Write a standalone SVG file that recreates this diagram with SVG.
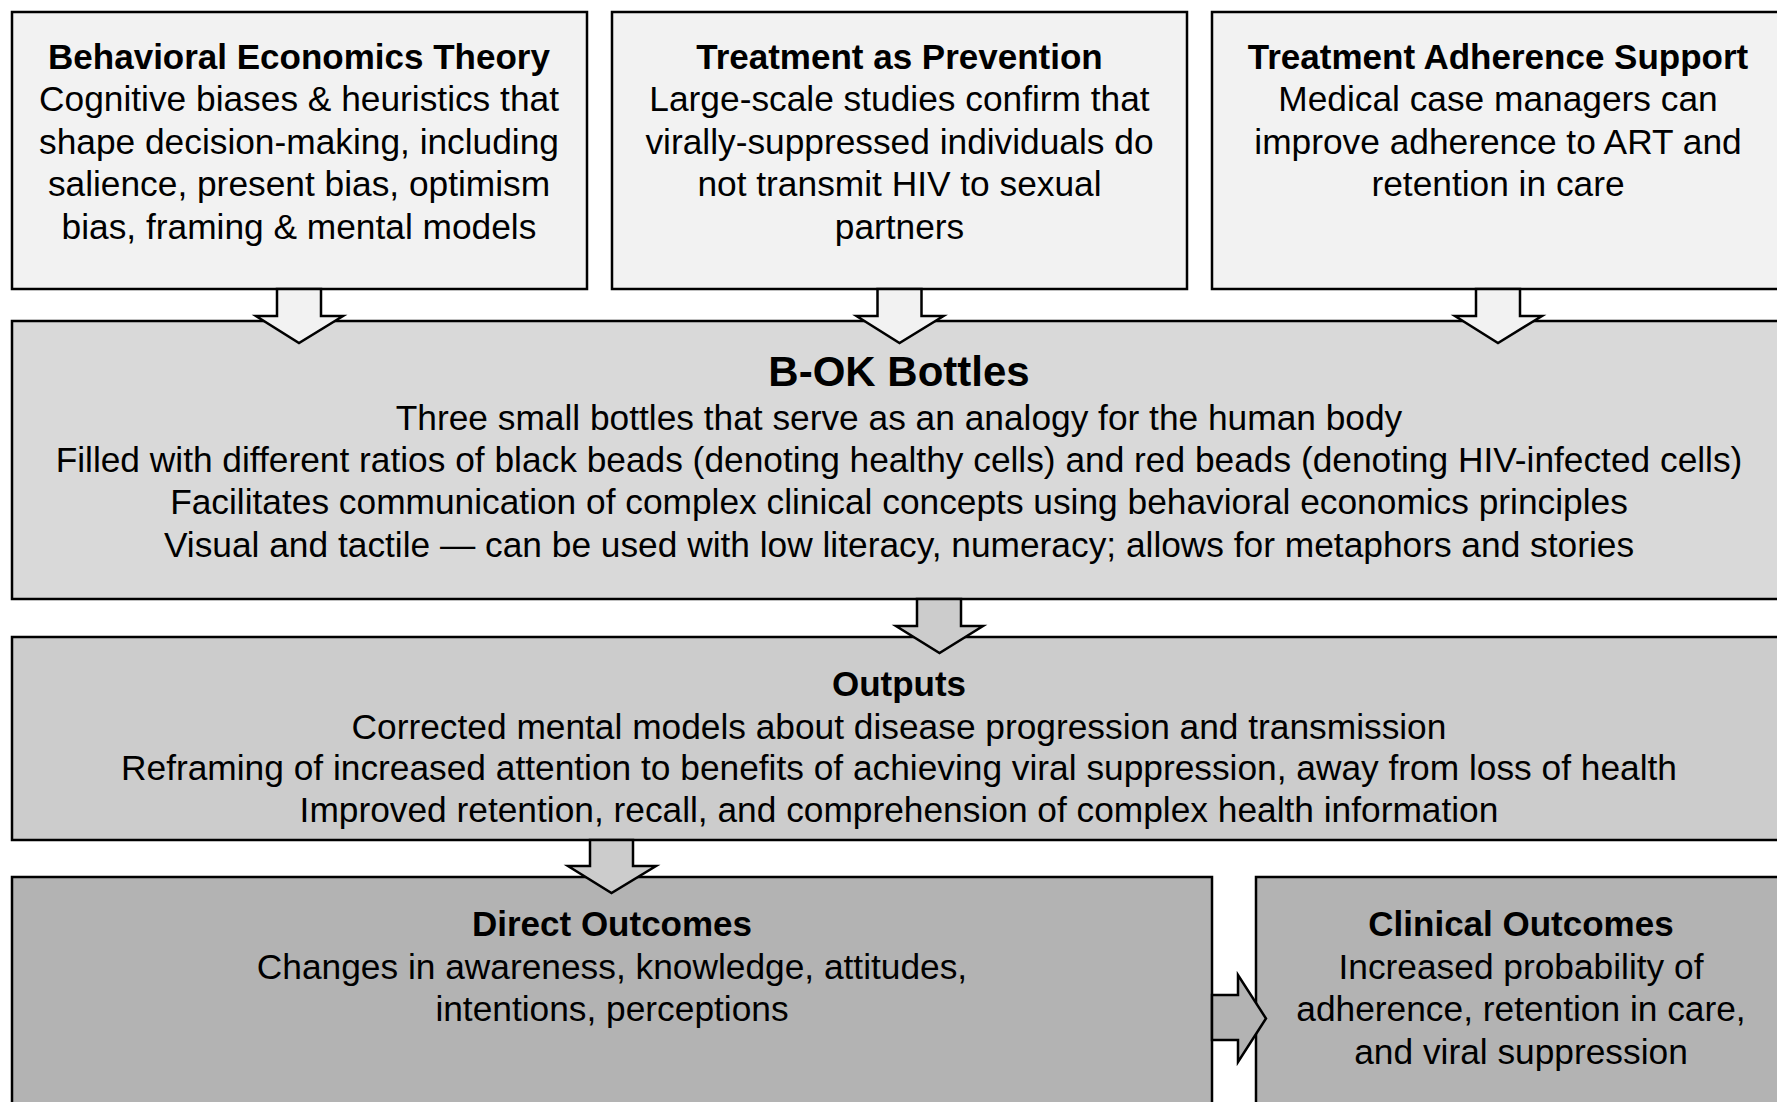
<svg xmlns="http://www.w3.org/2000/svg" width="1777" height="1102" viewBox="0 0 1777 1102">
<style>
.box{stroke:#000;stroke-width:2.5}
.l1{fill:#f2f2f2}.l2{fill:#d9d9d9}.l3{fill:#cccccc}.l4{fill:#b3b3b3}
.arr{stroke:#000;stroke-width:2.5;stroke-linejoin:miter}
text{font-family:"Liberation Sans",Arial,sans-serif;fill:#000;text-anchor:middle}
.t{font-size:35px;font-weight:bold}
.b{font-size:35.3px}
.h{font-size:42px;font-weight:bold}
</style>
<rect width="1777" height="1102" fill="#fff"/>
<g id="node-bet">
<rect class="box l1" x="12" y="12" width="575" height="277"/>
<text class="t" x="299" y="69">Behavioral Economics Theory</text>
<text class="b" x="299" y="111">Cognitive biases &amp; heuristics that</text>
<text class="b" x="299" y="154">shape decision-making, including</text>
<text class="b" x="299" y="196">salience, present bias, optimism</text>
<text class="b" x="299" y="239">bias, framing &amp; mental models</text>
</g>
<g id="node-tasp">
<rect class="box l1" x="612" y="12" width="575" height="277"/>
<text class="t" x="899.5" y="69">Treatment as Prevention</text>
<text class="b" x="899.5" y="111">Large-scale studies confirm that</text>
<text class="b" x="899.5" y="154">virally-suppressed individuals do</text>
<text class="b" x="899.5" y="196">not transmit HIV to sexual</text>
<text class="b" x="899.5" y="239">partners</text>
</g>
<g id="node-tas">
<rect class="box l1" x="1212" y="12" width="575" height="277"/>
<text class="t" x="1498" y="69">Treatment Adherence Support</text>
<text class="b" x="1498" y="111">Medical case managers can</text>
<text class="b" x="1498" y="154">improve adherence to ART and</text>
<text class="b" x="1498" y="196">retention in care</text>
</g>
<g id="node-bok">
<rect class="box l2" x="12" y="321" width="1775" height="278"/>
<text class="h" x="899" y="386">B-OK Bottles</text>
<text class="b" x="899" y="430">Three small bottles that serve as an analogy for the human body</text>
<text class="b" x="899" y="472">Filled with different ratios of black beads (denoting healthy cells) and red beads (denoting HIV-infected cells)</text>
<text class="b" x="899" y="514">Facilitates communication of complex clinical concepts using behavioral economics principles</text>
<text class="b" x="899" y="557">Visual and tactile — can be used with low literacy, numeracy; allows for metaphors and stories</text>
</g>
<g id="node-outputs">
<rect class="box l3" x="12" y="637" width="1775" height="203"/>
<text class="t" x="899" y="696">Outputs</text>
<text class="b" x="899" y="739">Corrected mental models about disease progression and transmission</text>
<text class="b" x="899" y="780">Reframing of increased attention to benefits of achieving viral suppression, away from loss of health</text>
<text class="b" x="899" y="822">Improved retention, recall, and comprehension of complex health information</text>
</g>
<g id="node-direct">
<rect class="box l4" x="12" y="877" width="1200" height="240"/>
<text class="t" x="612" y="936">Direct Outcomes</text>
<text class="b" x="612" y="979">Changes in awareness, knowledge, attitudes,</text>
<text class="b" x="612" y="1021">intentions, perceptions</text>
</g>
<g id="node-clinical">
<rect class="box l4" x="1256" y="877" width="531" height="240"/>
<text class="t" x="1521" y="936">Clinical Outcomes</text>
<text class="b" x="1521" y="979">Increased probability of</text>
<text class="b" x="1521" y="1021">adherence, retention in care,</text>
<text class="b" x="1521" y="1064">and viral suppression</text>
</g>
<g id="connectors">
<polygon class="arr l1" points="277,289 321,289 321,316 343,316 299,343 256,316 277,316"/>
<polygon class="arr l1" points="877.5,289 921.5,289 921.5,316 943.5,316 899.5,343 856.5,316 877.5,316"/>
<polygon class="arr l1" points="1476,289 1520,289 1520,316 1542,316 1498,343 1455,316 1476,316"/>
<polygon class="arr l3" points="917,599 961,599 961,626 983,626 939.5,653 896,626 917,626"/>
<polygon class="arr l3" points="590,840 633,840 633,866 656,866 611.5,893 568,866 590,866"/>
<polygon class="arr l4" points="1212,995 1238,995 1238,975 1266,1018.5 1238,1062 1238,1040 1212,1040"/>
</g>
</svg>
